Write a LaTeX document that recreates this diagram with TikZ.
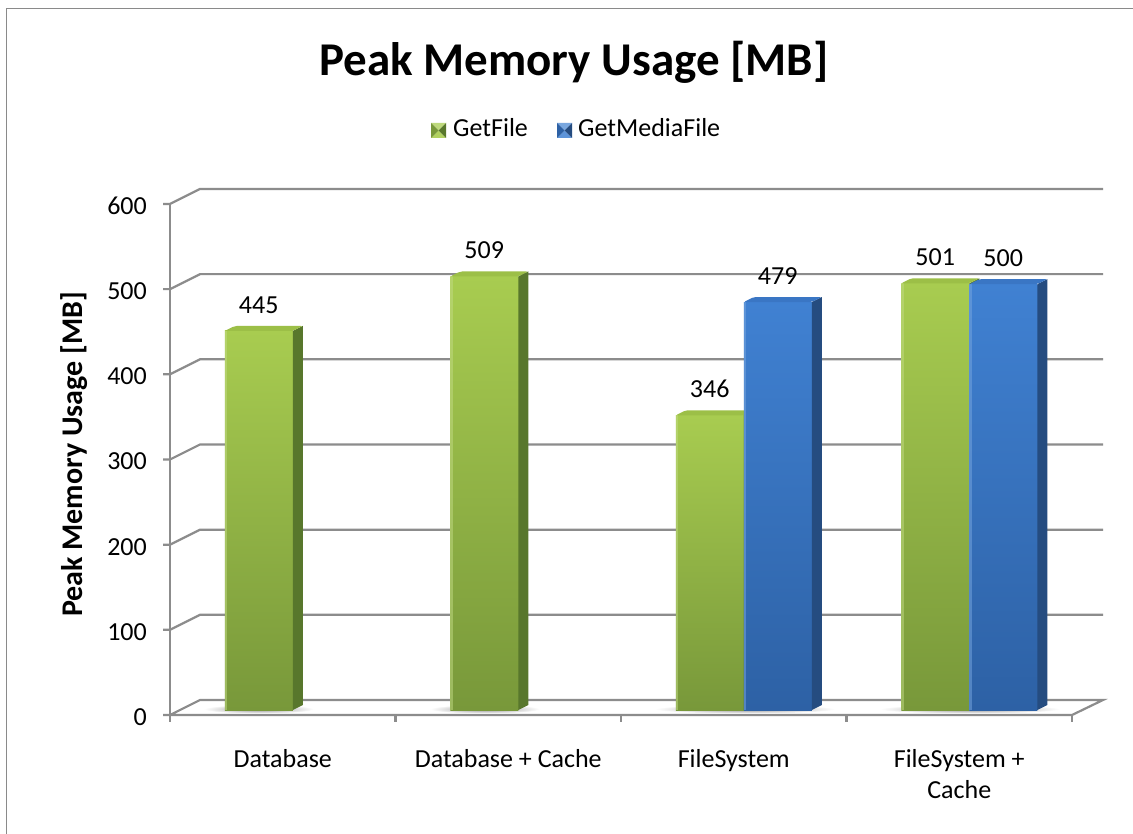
\documentclass[tikz,border=0pt]{standalone}
\usepackage{fontspec}
\setmainfont{Carlito}
\definecolor{gridgray}{HTML}{8C8C8C}
\definecolor{frame}{HTML}{8A8A8A}
\definecolor{gtop}{HTML}{A8CC50}
\definecolor{gbot}{HTML}{78983A}
\definecolor{gside}{HTML}{58772C}
\definecolor{gcap}{HTML}{9CBF47}
\definecolor{btop}{HTML}{4081D2}
\definecolor{bbot}{HTML}{2D61A5}
\definecolor{bside}{HTML}{254C80}
\definecolor{bcap}{HTML}{3A76C4}
\tikzset{
  grid/.style={draw=gridgray, line width=2.2pt},
  ticklab/.style={font=\fontsize{26}{30}\selectfont, anchor=base east, inner sep=0pt},
  catlab/.style={font=\fontsize{26}{31}\selectfont, anchor=base, inner sep=0pt},
  vallab/.style={font=\fontsize{26}{30}\selectfont, anchor=base, inner sep=0pt},
  legtext/.style={font=\fontsize{26}{30}\selectfont, anchor=base west, inner sep=0pt}
}
% one 3-D column: #1 left x of front face, #2 value, #3/#4 front gradient,
% #5 side colour, #6 top colour, #7 label node name
\newcommand{\chartcol}[7]{%
  \pgfmathsetmacro{\xa}{#1}%
  \pgfmathsetmacro{\xb}{#1+68}%
  \pgfmathsetmacro{\yt}{710-#2*0.8517}%
  \shade[top color=#3, bottom color=#4] (\xa,710) rectangle (\xb,\yt);
  \fill[#3!70!white, opacity=0.5] (\xa,710) rectangle (\xa+2.5,\yt);
  \fill[#5] (\xb,710) -- (\xb+10,705) -- (\xb+10,\yt-5) -- (\xb,\yt) -- cycle;
  \fill[#6, rounded corners=2pt] (\xa,\yt) -- (\xa+10,\yt-5) -- (\xb+10,\yt-5) -- (\xb,\yt) -- cycle;
  \node[vallab] (#7) at (\xa+34,\yt-17.5) {#2};
}
% legend marker with four bevel facets: top, bottom, left, right
\newcommand{\legmark}[6]{%
  \fill[#3] (#1,#2) -- (#1+15,#2) -- (#1+7.5,#2+7.5) -- cycle;
  \fill[#4] (#1,#2+15) -- (#1+15,#2+15) -- (#1+7.5,#2+7.5) -- cycle;
  \fill[#5] (#1,#2) -- (#1,#2+15) -- (#1+7.5,#2+7.5) -- cycle;
  \fill[#6] (#1+15,#2) -- (#1+15,#2+15) -- (#1+7.5,#2+7.5) -- cycle;
}
\begin{document}
\begin{tikzpicture}[x=1pt, y=-1pt]
\useasboundingbox (0,0) rectangle (1133,834);
\fill[white] (0,0) rectangle (1133,834);
% chart frame
\draw[frame, line width=1.8pt] (6.5,840) -- (6.5,8.5) -- (1140,8.5);

% title
\node[font=\fontsize{47}{52}\selectfont\bfseries, anchor=base, inner sep=0pt] (title) at (574,76) {Peak Memory Usage [MB]};

% legend
\legmark{431}{123}{gtop!75!white}{gtop!90!white}{gbot}{gside}
\node[legtext] (leg1) at (453,137) {GetFile};
\legmark{557}{123}{btop!70!white}{btop!85!white}{bbot}{bside}
\node[legtext] (leg2) at (578,137) {GetMediaFile};

% walls: grid lines from the value axis to the back wall
\foreach \v in {100,200,...,600} {
  \pgfmathsetmacro{\yy}{715-\v*0.8517}
  \draw[grid] (163,\yy) -- (170,\yy) -- (200,\yy-15) -- (1103,\yy-15);
}
% floor
\draw[grid] (163,715) -- (170,715) -- (200,700) -- (1103,700) -- (1072,715) -- cycle;
% value axis
\draw[grid] (170,203) -- (170,722);
% category ticks
\foreach \x in {395.5,621,846.5,1072} \draw[grid] (\x,715) -- (\x,722);

% value tick labels
\foreach \v in {0,100,...,600} {
  \pgfmathsetmacro{\yy}{715-\v*0.8517}
  \node[ticklab] (tick\v) at (147,\yy+10.5) {\v};
}

% shadows on the floor
\foreach \cx/\w in {259/55, 485/55, 745/90, 970/90}
  \shade[inner color=black!45, outer color=white] (\cx,709) ellipse (\w pt and 4.5pt);

% columns
\chartcol{224.75}{445}{gtop}{gbot}{gside}{gcap}{v1}
\chartcol{450.25}{509}{gtop}{gbot}{gside}{gcap}{v2}
\chartcol{675.75}{346}{gtop}{gbot}{gside}{gcap}{v3}
\chartcol{743.75}{479}{btop}{bbot}{bside}{bcap}{v4}
\chartcol{901.25}{501}{gtop}{gbot}{gside}{gcap}{v5}
\chartcol{969.25}{500}{btop}{bbot}{bside}{bcap}{v6}

% category labels
\node[catlab] (c1) at (282.75,767) {Database};
\node[catlab] (c2) at (508.25,767) {Database + Cache};
\node[catlab] (c3) at (733.75,767) {FileSystem};
\node[catlab] (c4a) at (959.25,767) {FileSystem +};
\node[catlab] (c4b) at (959.25,798) {Cache};

% value axis title
\node[font=\fontsize{30}{34}\selectfont\bfseries, rotate=90, anchor=base, inner sep=0pt] (ytitle) at (82,454.5) {Peak Memory Usage [MB]};
\end{tikzpicture}
\end{document}
